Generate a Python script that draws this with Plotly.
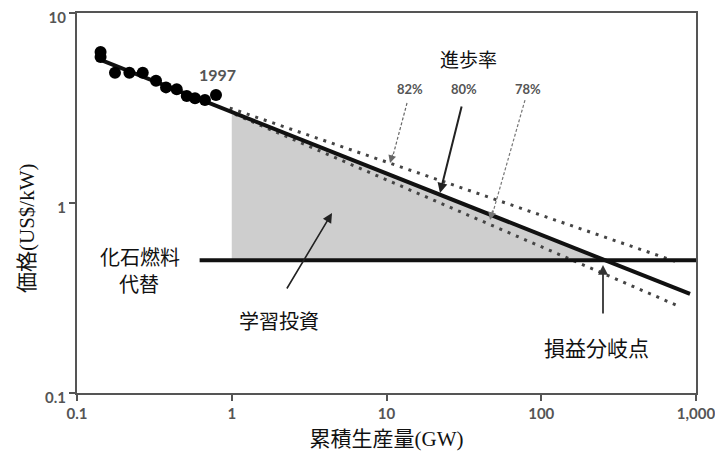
import plotly.graph_objects as go

# ---- data ----
hist_x = [0.142, 0.142, 0.176, 0.218, 0.266, 0.324, 0.376, 0.441, 0.512, 0.579, 0.671, 0.791]
hist_y = [6.23, 5.87, 4.85, 4.85, 4.85, 4.40, 4.06, 3.97, 3.66, 3.56, 3.48, 3.70]

pr80_x = [0.137, 915]
pr80_y = [5.73, 0.332]
pr82_x = [0.97, 790]
pr82_y = [3.16, 0.483]
pr78_x = [1.05, 800]
pr78_y = [2.93, 0.283]

fossil_x = [0.62, 1000]
fossil_y = [0.5, 0.5]

shade_x = [1, 1, 250, 1]
shade_y = [0.5, 3.02, 0.5, 0.5]

arr82_x = [13.57, 10.9]
arr82_y = [3.36, 1.72]
arr78_x = [78.5, 48.5]
arr78_y = [3.48, 0.88]

x_ticks = [0.1, 1, 10, 100, 1000]
x_ticklabels = ["0.1", "1", "10", "100", "1,000"]
y_ticks = [0.1, 1, 10]
y_ticklabels = ["0.1", "1", "10"]

CJK = "Noto Sans CJK JP"
GRAY_TXT = "#555555"

# page has an 8px body margin; size the figure so the plot area lands at 77..696 x 13..393
OFF = 8
W, H = 723 - OFF, 461 - OFF
L, T = 77 - OFF, 13 - OFF
PW, PH = 619, 380
R, B = W - L - PW, H - T - PH

fig = go.Figure()

fig.add_trace(go.Scatter(x=shade_x, y=shade_y, mode="lines", fill="toself",
                         fillcolor="rgb(206,206,206)", line=dict(width=0),
                         hoverinfo="skip", showlegend=False))
fig.add_trace(go.Scatter(x=pr82_x, y=pr82_y, mode="lines",
                         line=dict(color="#444444", width=3, dash="3px,6px"), showlegend=False))
fig.add_trace(go.Scatter(x=pr78_x, y=pr78_y, mode="lines",
                         line=dict(color="#444444", width=3, dash="3px,6px"), showlegend=False))
fig.add_trace(go.Scatter(x=fossil_x, y=fossil_y, mode="lines",
                         line=dict(color="#111111", width=4), showlegend=False))
fig.add_trace(go.Scatter(x=pr80_x, y=pr80_y, mode="lines",
                         line=dict(color="#111111", width=4), showlegend=False))
fig.add_trace(go.Scatter(x=hist_x, y=hist_y, mode="markers",
                         marker=dict(color="#000000", size=12), showlegend=False))
fig.add_trace(go.Scatter(x=arr82_x, y=arr82_y, mode="lines",
                         line=dict(color="#666666", width=1.2, dash="3px,2px"), showlegend=False))
fig.add_trace(go.Scatter(x=arr78_x, y=arr78_y, mode="lines",
                         line=dict(color="#777777", width=1.2, dash="3px,2px"), showlegend=False))

ann = []
def txt(xl, yl, s, size, color="#111111", family=CJK, weight="normal"):
    ann.append(dict(x=xl, y=yl, xref="x", yref="y", text=s, showarrow=False,
                    font=dict(size=size, color=color, family=family, weight=weight)))

def arrow(xl, yl, ax, ay, color, width, head=2, size=1.2):
    ann.append(dict(x=xl, y=yl, xref="x", yref="y", text="", showarrow=True,
                    ax=ax, ay=ay, arrowcolor=color, arrowwidth=width,
                    arrowhead=head, arrowsize=size))

txt(-0.09, 0.674, "1997", 16, GRAY_TXT, "Lato", "bold")
txt(1.533, 0.763, "進歩率", 19)
txt(1.152, 0.600, "82%", 13, GRAY_TXT, "Lato", "bold")
txt(1.501, 0.600, "80%", 13, GRAY_TXT, "Lato", "bold")
txt(1.914, 0.600, "78%", 13, GRAY_TXT, "Lato", "bold")
txt(-0.593, -0.279, "化石燃料", 20)
txt(-0.600, -0.426, "代替", 20)
txt(0.305, -0.616, "学習投資", 20)
txt(2.354, -0.758, "損益分岐点", 21)

arrow(1.0226, 0.2105, 3, -10, "#666666", 1.2, 2, 1.3)
arrow(1.6688, -0.0895, 3, -11, "#777777", 1.2, 2, 1.3)
arrow(1.3457, 0.0526, 22, -88, "#222222", 2, 2, 1.0)
arrow(0.6478, -0.0526, -46, 77, "#222222", 1.6, 2, 1.2)
arrow(2.399, -0.326, 0, 50, "#333333", 1.8, 2, 1.1)

ann.append(dict(x=(25 - 77) / PW, y=(393 - 228) / PH, xref="paper", yref="paper",
                xanchor="center", yanchor="middle", showarrow=False,
                text=("<span style='font-family:Noto Sans CJK JP'>価格</span>"
                      "<span style='font-family:Liberation Serif'>(US$/kW)</span>"),
                textangle=-90, font=dict(size=21, color="#111111")))

fig.update_layout(
    width=W, height=H,
    margin=dict(l=L, r=R, t=T, b=B),
    paper_bgcolor="white", plot_bgcolor="white",
    annotations=ann,
    xaxis=dict(type="log", range=[-1, 3], tickvals=x_ticks, ticktext=x_ticklabels,
               ticks="outside", ticklen=6, tickwidth=2, tickcolor="#555555",
               showline=True, linecolor="#555555", linewidth=2, mirror=True,
               showgrid=False, zeroline=False, automargin=False, ticklabeloverflow="allow",
               tickfont=dict(family="Lato", size=15, color=GRAY_TXT, weight="bold"),
               title=dict(text=("<span style='font-family:Noto Sans CJK JP'>累積生産量</span>"
                                "<span style='font-family:Liberation Serif'>(GW)</span>"),
                          font=dict(size=21, color="#111111"), standoff=8)),
    yaxis=dict(type="log", range=[-1, 1], tickvals=y_ticks, ticktext=y_ticklabels,
               ticks="outside", ticklen=6, tickwidth=2, tickcolor="#555555",
               showline=True, linecolor="#555555", linewidth=2, mirror=True,
               showgrid=False, zeroline=False, automargin=False,
               ticklabelshift=5, ticklabeloverflow="allow",
               tickfont=dict(family="Lato", size=15, color=GRAY_TXT, weight="bold")),
)

fig.write_html("out.html")
